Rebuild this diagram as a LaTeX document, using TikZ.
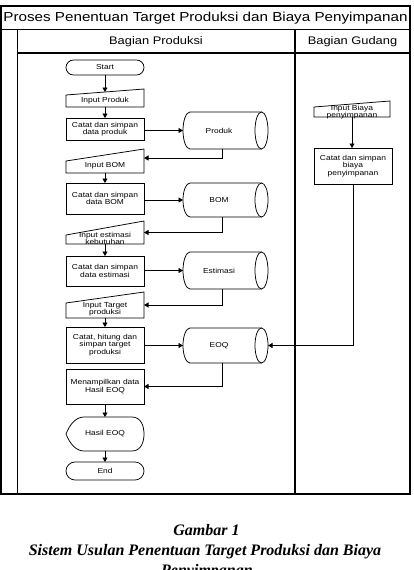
\documentclass[tikz,border=0pt]{standalone}
\usepackage{fontspec}
\setmainfont{Liberation Sans}[FakeStretch=1.17]
\newfontfamily\capfont{Liberation Serif}
\usetikzlibrary{arrows.meta,calc}

\tikzset{
  frame/.style={line width=1.3pt},
  shp/.style={line width=0.75pt},
  lbl/.style={inner sep=0pt, outer sep=0pt, align=center, font=\fontsize{7.2}{7.2}\selectfont},
  proc/.style={lbl, draw, line width=0.75pt, minimum width=78pt},
  term/.style={proc, rounded corners=#1},
  arr/.style={line width=0.75pt, -{Triangle[width=5pt,length=4.5pt]}},
}

% manual input: name, xl, xr, y top-right, y top-left, y bottom
\newcommand\minp[6]{%
  \draw[shp] (#2,#6) -- (#2,#5) -- (#3,#4) -- (#3,#6) -- cycle;
  \pgfmathsetmacro\mpw{#3-#2}%
  \pgfmathsetmacro\mph{#6-#4}%
  \pgfmathsetmacro\mpx{(#2+#3)/2}%
  \pgfmathsetmacro\mpy{(#4+#6)/2}%
  \pgfmathsetmacro\mpt{(#4+#5)/2}%
  \node[lbl, minimum width=\mpw pt, minimum height=\mph pt] (#1) at (\mpx,\mpy) {};
  \coordinate (#1top) at (\mpx,\mpt);
}
% cylinder: name, y top, y bottom, text
\newcommand\cyl[4]{%
  \pgfmathsetmacro\cyh{(#3-#2)/2}%
  \pgfmathsetmacro\cym{(#2+#3)/2}%
  \pgfmathsetmacro\cyH{#3-#2}%
  \draw[shp] (261.5,#2) -- (190,#2) arc[start angle=-90,end angle=-270,x radius=7,y radius=\cyh] -- (261.5,#3);
  \draw[shp] (261.5,\cym) ellipse[x radius=6.5,y radius=\cyh];
  \node[lbl, minimum width=85pt, minimum height=\cyH pt] (#1) at (225.5,\cym) {};
  \node[lbl] (#1txt) at (219,\cym) {#4};
}

\begin{document}
\begin{tikzpicture}[x=1pt,y=-1pt]
\useasboundingbox (0,0) rectangle (414,570);

% swimlane frame
\draw[frame] (1,6) rectangle (410,494);
\draw[frame] (1,29.5) -- (410,29.5);
\draw[frame] (17.5,29.5) -- (17.5,494);
\draw[frame] (295,29.5) -- (295,494);
\draw[frame] (17.5,53) -- (410,53);
\node[inner sep=0pt, font=\fontsize{13}{15}\selectfont] (title) at (205.5,18) {Proses Penentuan Target Produksi dan Biaya Penyimpanan};
\node[inner sep=0pt, font=\fontsize{11}{13}\selectfont] (hprod) at (156,41.5) {Bagian Produksi};
\node[inner sep=0pt, font=\fontsize{11}{13}\selectfont] (hgud) at (352.5,41.5) {Bagian Gudang};

% Bagian Produksi
\node[term=7.5pt, minimum height=15pt] (start) at (105,67.5) {Start};
\minp{inP}{66}{144}{89}{95}{107}
\node[lbl] (inPt) at (105,101) {Input Produk};
\node[proc, minimum height=22pt] (catP) at (105,129) {Catat dan simpan\\data produk};
\cyl{cylP}{112}{149}{Produk}

\minp{inB}{66}{144}{149}{161}{173}
\node[lbl] (inBt) at (105,166) {Input BOM};
\node[proc, minimum height=31pt] (catB) at (105,198.5) {Catat dan simpan\\data BOM};
\cyl{cylB}{183}{217}{BOM}

\minp{inE}{66}{144}{221}{235}{244}
\node[lbl] (inEt) at (105,238.5) {Input estimasi\\kebutuhan};
\node[proc, minimum height=30pt] (catE) at (105,271) {Catat dan simpan\\data estimasi};
\cyl{cylE}{252}{289}{Estimasi}

\minp{inT}{66}{144}{292}{303}{318}
\node[lbl] (inTt) at (105,309.5) {Input Target\\produksi};
\node[proc, minimum height=36pt] (catT) at (105,345) {Catat, hitung dan\\simpan target\\produksi};
\cyl{cylQ}{328}{363}{EOQ}

\node[proc, minimum height=35pt] (show) at (105,386.5) {Menampilkan data\\Hasil EOQ};
\draw[shp] (66,434) .. controls (70,424) and (76,417) .. (84,417) -- (132,417)
  .. controls (141,417) and (144,426) .. (144,434)
  .. controls (144,442) and (141,451) .. (132,451) -- (84,451)
  .. controls (76,451) and (70,444) .. (66,434) -- cycle;
\node[lbl, minimum width=78pt, minimum height=34pt] (disp) at (105,434) {Hasil EOQ};
\node[term=9pt, minimum height=18pt] (end) at (105,471) {End};

% Bagian Gudang
\minp{inG}{314}{390}{101}{107}{117}
\node[lbl] (inGt) at (352,112.5) {Input Biaya\\penyimpanan};
\node[proc, minimum height=36pt] (catG) at (353,166) {Catat dan simpan\\biaya\\penyimpanan};

% connectors
\draw[arr] (start.south) -- (inPtop);
\draw[arr] (inP.south) -- (catP.north);
\draw[arr] (catP.east |- cylP) -- (cylP.west);
\draw[arr] ([xshift=-3.5pt]cylP.south) |- ([yshift=3pt]inB.east);
\draw[arr] (inB.south) -- (catB.north);
\draw[arr] (catB.east |- cylB) -- (cylB.west);
\draw[arr] ([xshift=-3.5pt]cylB.south) |- (inE.east);
\draw[arr] (inE.south) -- (catE.north);
\draw[arr] (catE.east |- cylE) -- (cylE.west);
\draw[arr] ([xshift=-3.5pt]cylE.south) |- (inT.east);
\draw[arr] (inT.south) -- (catT.north);
\draw[arr] (catT.east |- cylQ) -- (cylQ.west);
\draw[arr] ([xshift=-3.5pt]cylQ.south) |- (show.east);
\draw[arr] (show.south) -- (disp.north);
\draw[arr] (disp.south) -- (end.north);
\draw[arr] (inG.south) -- (inG.south |- catG.north);
\draw[arr] (catG.south) |- (cylQ.east);

% caption
\node[inner sep=0pt, anchor=base, font={\fontsize{16}{19}\capfont\bfseries\itshape}] (cap1) at (206.5,535) {Gambar 1};
\node[inner sep=0pt, anchor=base, font={\fontsize{16}{19}\capfont\bfseries\itshape}] (cap2) at (205,555) {Sistem Usulan Penentuan Target Produksi dan Biaya};
\node[inner sep=0pt, anchor=base, font={\fontsize{16}{19}\capfont\bfseries\itshape}] (cap3) at (207,575) {Penyimpanan};
\end{tikzpicture}
\end{document}
